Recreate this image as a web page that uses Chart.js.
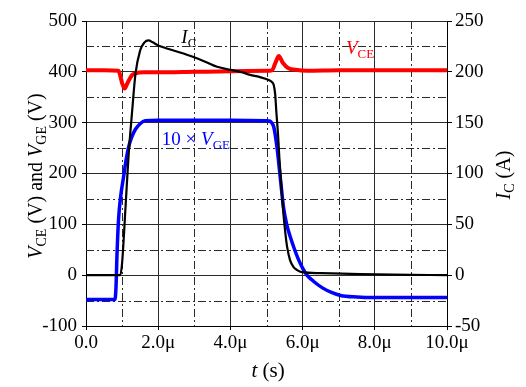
<!DOCTYPE html>
<html><head><meta charset="utf-8">
<script src="https://cdn.jsdelivr.net/npm/chart.js@4/dist/chart.umd.min.js"></script>
<style>html,body{margin:0;padding:0;background:#fff}</style>
</head><body>
<canvas id="c" width="526" height="387" style="display:block;width:526px;height:387px"></canvas>
<script>
// ---- data (time in microseconds) ----
const icTime   = [0, 0.5, 0.95, 1.0, 1.1, 1.18, 1.28, 1.37, 1.5, 1.62, 1.73, 1.85, 2.0, 2.24, 2.7, 2.94, 3.3, 3.63, 4.0, 4.28, 4.55, 4.8, 5.06, 5.15, 5.2, 5.24, 5.27, 5.32, 5.36, 5.41, 5.46, 5.52, 5.57, 5.65, 5.75, 5.85, 5.98, 6.5, 7.6, 8.5, 10];
const icValues = [0, 0, 0, 12, 70, 118, 162, 198, 221, 229, 231, 229, 226, 223, 218, 215, 210, 205, 202, 200, 197, 195, 192, 190, 187, 178, 162, 138, 113, 88, 64, 42, 28, 15, 8, 5, 3, 2, 1, 0.5, 0];

const vgeTime   = [0, 0.5, 0.8, 0.83, 0.86, 0.9, 0.96, 1.04, 1.1, 1.18, 1.27, 1.37, 1.5, 1.64, 2.0, 3.0, 4.0, 5.0, 5.1, 5.15, 5.2, 5.29, 5.38, 5.47, 5.56, 5.66, 5.78, 5.89, 6.0, 6.12, 6.3, 6.55, 6.8, 7.05, 7.5, 8.0, 9.0, 10];
const vge10Values = [-48, -48, -48, -25, 43, 108, 155, 193, 222, 252, 272, 287, 298, 304, 305, 305, 305, 304, 303, 299, 292, 252, 193, 134, 100, 75, 50, 30, 14, 0, -12, -25, -34, -40, -43, -44, -44, -44];

const vceTime   = [0, 0.5, 0.9, 0.95, 1.0, 1.07, 1.15, 1.27, 1.37, 1.6, 2.0, 3.0, 4.0, 5.0, 5.15, 5.25, 5.34, 5.45, 5.61, 5.8, 6.12, 7.0, 8.0, 9.0, 10];
const vceValues = [403, 403, 402, 392, 378, 367, 378, 393, 397, 399, 399, 400, 401, 402, 403, 418, 431, 418, 407, 404, 402, 403, 403, 403, 403];

const xMajorTicks = [0, 2, 4, 6, 8, 10];
const xMinorGrid  = [1, 3, 5, 7, 9];
const yLeftTicks  = [-100, 0, 100, 200, 300, 400, 500];
const yMinorGrid  = [-50, 50, 150, 250, 350, 450];
const yRightTicks = [-50, 0, 50, 100, 150, 200, 250];

const toPts = (xs, ys) => xs.map((x, i) => ({x: x, y: ys[i]}));

const SERIF = '"Liberation Serif", "Times New Roman", serif';
const GRID = '#2a2a2a';

function rich(ctx, parts, x, y, align, size) {
  const fonts = {
    i: 'italic ' + size + 'px ' + SERIF,
    n: size + 'px ' + SERIF,
    s: Math.round(size * 0.68) + 'px ' + SERIF
  };
  let w = 0;
  parts.forEach(p => { ctx.font = fonts[p[1]]; w += ctx.measureText(p[0]).width; });
  let cx = align === 'center' ? x - w / 2 : x;
  parts.forEach(p => {
    ctx.font = fonts[p[1]];
    ctx.fillText(p[0], cx, y + (p[1] === 's' ? Math.round(size * 0.22) : 0));
    cx += ctx.measureText(p[0]).width;
  });
}

const decor = {
  id: 'decor',
  beforeDatasetsDraw(chart) {
    const {ctx, chartArea: a, scales} = chart;
    ctx.save();
    ctx.strokeStyle = GRID; ctx.lineWidth = 1; ctx.setLineDash([8, 3, 2, 3]);
    xMinorGrid.forEach(v => {
      const x = Math.round(scales.x.getPixelForValue(v)) + 0.5;
      ctx.beginPath(); ctx.moveTo(x, a.top); ctx.lineTo(x, a.bottom); ctx.stroke();
    });
    yMinorGrid.forEach(v => {
      const y = Math.round(scales.y.getPixelForValue(v)) + 0.5;
      ctx.beginPath(); ctx.moveTo(a.left, y); ctx.lineTo(a.right, y); ctx.stroke();
    });
    ctx.restore();
  },
  afterDraw(chart) {
    const {ctx, scales} = chart;
    const sx = scales.x, sy = scales.y;
    ctx.save();
    ctx.textBaseline = 'alphabetic';
    ctx.fillStyle = '#000';
    // axis titles
    rich(ctx, [['t', 'i'], [' (s)', 'n']], 268, 377, 'center', 21);
    ctx.save(); ctx.translate(42, 176); ctx.rotate(-Math.PI / 2);
    rich(ctx, [['V', 'i'], ['CE', 's'], [' (V) and ', 'n'], ['V', 'i'], ['GE', 's'], [' (V)', 'n']], 0, 0, 'center', 20);
    ctx.restore();
    ctx.save(); ctx.translate(510, 175); ctx.rotate(-Math.PI / 2);
    rich(ctx, [['I', 'i'], ['C', 's'], [' (A)', 'n']], 0, 0, 'center', 20);
    ctx.restore();
    // in-plot labels
    ctx.fillStyle = '#000';
    rich(ctx, [['I', 'i'], ['C', 's']], sx.getPixelForValue(2.64), sy.getPixelForValue(456), 'left', 19);
    ctx.fillStyle = '#ff0000';
    rich(ctx, [['V', 'i'], ['CE', 's']], sx.getPixelForValue(7.2), sy.getPixelForValue(435), 'left', 19);
    ctx.fillStyle = '#0000ff';
    rich(ctx, [['10 × ', 'n'], ['V', 'i'], ['GE', 's']], sx.getPixelForValue(2.1), sy.getPixelForValue(256), 'left', 19);
    ctx.restore();
  }
};

const tickFont = {family: SERIF, size: 19};

new Chart(document.getElementById('c'), {
  type: 'line',
  data: {
    datasets: [
      {label: 'IC', data: toPts(icTime, icValues), yAxisID: 'y1', borderColor: '#000000', borderWidth: 2.2, pointRadius: 0, order: 0, cubicInterpolationMode: 'monotone'},
      {label: '10 x VGE', data: toPts(vgeTime, vge10Values), yAxisID: 'y', borderColor: '#0000ff', borderWidth: 3.5, pointRadius: 0, order: 1, cubicInterpolationMode: 'monotone'},
      {label: 'VCE', data: toPts(vceTime, vceValues), yAxisID: 'y', borderColor: '#ff0000', borderWidth: 4, pointRadius: 0, order: 2, cubicInterpolationMode: 'monotone'}
    ]
  },
  options: {
    responsive: false,
    animation: false,
    devicePixelRatio: 1,
    layout: {padding: {top: 21, right: 0, bottom: 0, left: 0}},
    plugins: {legend: {display: false}, tooltip: {enabled: false}},
    scales: {
      x: {
        type: 'linear', min: 0, max: 10,
        afterBuildTicks: s => { s.ticks = xMajorTicks.map(v => ({value: v})); },
        afterFit: s => { s.height = 61; },
        ticks: {color: '#000', font: tickFont, padding: 2, maxRotation: 0,
          callback: v => v === 0 ? '0.0' : v.toFixed(1) + 'μ'},
        grid: {color: GRID, lineWidth: 1, tickLength: 4, tickColor: '#000'},
        border: {color: '#000', width: 1}
      },
      y: {
        position: 'left', min: -100, max: 500,
        afterBuildTicks: s => { s.ticks = yLeftTicks.map(v => ({value: v})); },
        afterFit: s => { s.width = 86; },
        ticks: {color: '#000', font: tickFont, padding: 5, callback: v => String(v)},
        grid: {color: GRID, lineWidth: 1, tickLength: 4, tickColor: '#000'},
        border: {color: '#000', width: 1}
      },
      y1: {
        position: 'right', min: -50, max: 250,
        afterBuildTicks: s => { s.ticks = yRightTicks.map(v => ({value: v})); },
        afterFit: s => { s.width = 79; },
        ticks: {color: '#000', font: tickFont, padding: 3, callback: v => String(v)},
        grid: {drawOnChartArea: false, tickLength: 5, tickColor: '#000'},
        border: {color: '#000', width: 1}
      }
    }
  },
  plugins: [decor]
});
</script>
</body></html>
